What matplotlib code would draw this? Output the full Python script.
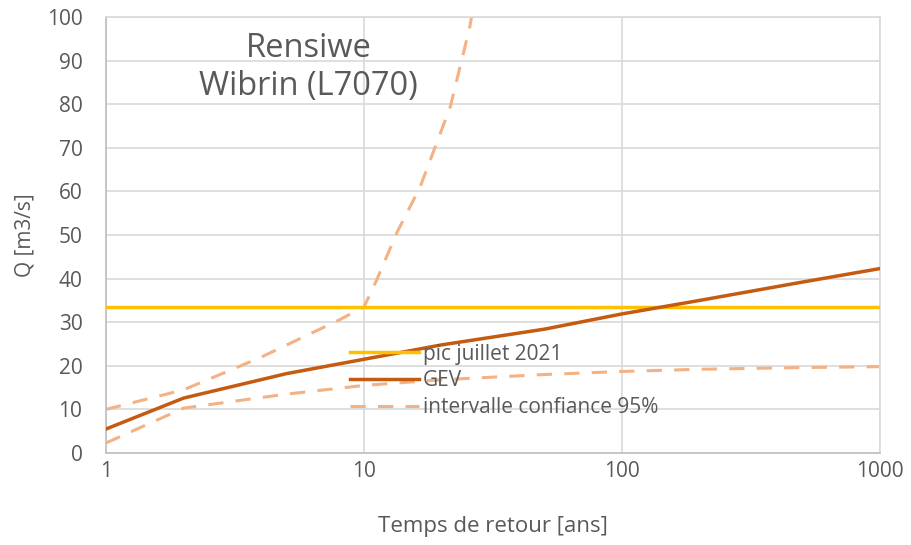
import matplotlib
matplotlib.use("Agg")
import matplotlib.pyplot as plt
from matplotlib.ticker import FixedLocator, FixedFormatter, NullLocator

plt.rcParams['font.family'] = ['Open Sans', 'DejaVu Sans']

# Data
T_gev = [1, 2, 5, 10, 20, 50, 100, 200, 500, 1000]
Q_gev = [5.5, 12.6, 18.2, 21.5, 24.8, 28.4, 31.9, 35.0, 39.2, 42.3]

T_up = [1, 2, 4, 8, 10, 11.2, 13.4, 16.5, 21.6, 25.7, 26.1]
Q_up = [10.0, 14.5, 22.0, 30.5, 33.5, 39.7, 50.5, 61.0, 79.4, 97.7, 100.0]

T_low = [1, 2, 5, 10, 20, 50, 100, 200, 500, 1000]
Q_low = [2.3, 10.3, 13.5, 15.5, 16.8, 18.0, 18.7, 19.2, 19.6, 19.8]

peak_T = [1, 1000]
peak_Q = [33.5, 33.5]

x_ticks = [1, 10, 100, 1000]
x_labels = ["1", "10", "100", "1000"]
y_ticks = list(range(0, 101, 10))

title = "Rensiwe\nWibrin (L7070)"
xlabel = "Temps de retour [ans]"
ylabel = "Q [m3/s]"
legend_labels = ["pic juillet 2021", "GEV", "intervalle confiance 95%"]

c_peak = "#FFC000"
c_gev = "#C55A11"
c_ci = "#F4B183"
c_text = "#595959"
c_grid = "#D9D9D9"

fig = plt.figure(figsize=(9.12, 5.45), dpi=100)
ax = fig.add_axes([106/912, 92/545, 774/912, 436/545])

ax.set_xscale("log")
ax.set_xlim(1, 1000)
ax.set_ylim(0, 100)

l1, = ax.plot(peak_T, peak_Q, color=c_peak, lw=2.5, zorder=3)
l2, = ax.plot(T_gev, Q_gev, color=c_gev, lw=2.5, zorder=4)
l3, = ax.plot(T_up, Q_up, color=c_ci, lw=2.2, dashes=(5, 4), zorder=2)
ax.plot(T_low, Q_low, color=c_ci, lw=2.2, dashes=(5, 4), zorder=2)

ax.xaxis.set_major_locator(FixedLocator(x_ticks))
ax.xaxis.set_major_formatter(FixedFormatter(x_labels))
ax.xaxis.set_minor_locator(NullLocator())
ax.set_yticks(y_ticks)

ax.grid(True, which="major", color=c_grid, lw=1.2)
ax.set_axisbelow(True)
for s in ax.spines.values():
    s.set_color(c_grid)
    s.set_linewidth(1.2)
ax.spines["left"].set_color("#BFBFBF")
ax.spines["bottom"].set_color("#BFBFBF")

ax.tick_params(axis="both", length=0, labelsize=15, colors=c_text)
ax.tick_params(axis="y", pad=17)
ax.tick_params(axis="x", pad=6)

ax.set_xlabel(xlabel, fontsize=16, color=c_text, labelpad=24)
ax.set_ylabel(ylabel, fontsize=15, color=c_text, labelpad=8)

ax.text(0.262, 0.885, title, transform=ax.transAxes, ha="center", va="center",
        fontsize=23.5, color=c_text, linespacing=1.2)

leg = ax.legend([l1, l2, l3], legend_labels, loc="upper left",
                bbox_to_anchor=(0.315, 0.251), frameon=False, fontsize=15,
                handlelength=3.3, handletextpad=0.2, labelspacing=0.27,
                borderpad=0, borderaxespad=0)
for t in leg.get_texts():
    t.set_color(c_text)

fig.savefig("out.png", dpi=100)
